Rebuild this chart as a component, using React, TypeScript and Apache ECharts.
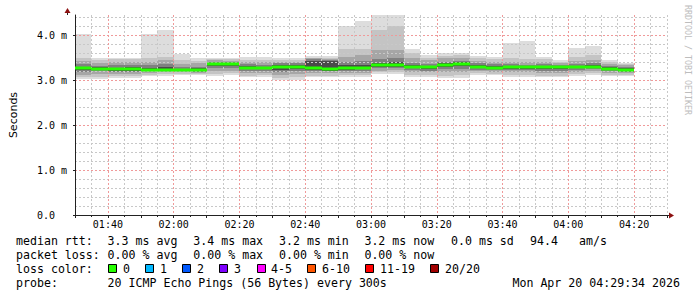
import React, { useEffect, useRef } from "react";
import * as echarts from "echarts";

// ---- data (values in ms, 5-minute bins, 20 pings per bin) ----
const binStart = [
  "01:30", "01:35", "01:40", "01:45", "01:50", "01:55", "02:00", "02:05", "02:10", "02:15",
  "02:20", "02:25", "02:30", "02:35", "02:40", "02:45", "02:50", "02:55", "03:00", "03:05",
  "03:10", "03:15", "03:20", "03:25", "03:30", "03:35", "03:40", "03:45", "03:50", "03:55",
  "04:00", "04:05", "04:10", "04:15",
];
const rttMin = [3.02, 3.02, 3.05, 3.05, 3.09, 3.09, 3.11, 3.11, 3.09, 3.11, 3.06, 3.06, 3.01, 3.01, 3.06, 3.06, 3.07, 3.07, 3.13, 3.13, 3.07, 3.07, 3.05, 3.05, 3.11, 3.11, 3.07, 3.07, 3.06, 3.06, 3.09, 3.11, 3.09, 3.09];
const rttLow2 = [3.06, 3.07, 3.09, 3.08, 3.12, 3.13, 3.14, 3.13, 3.14, 3.15, 3.10, 3.11, 3.05, 3.06, 3.10, 3.10, 3.11, 3.11, 3.17, 3.17, 3.12, 3.11, 3.10, 3.11, 3.15, 3.14, 3.11, 3.12, 3.10, 3.10, 3.13, 3.15, 3.12, 3.12];
const rttLow3 = [3.12, 3.13, 3.14, 3.13, 3.16, 3.17, 3.17, 3.16, 3.20, 3.21, 3.16, 3.16, 3.12, 3.13, 3.15, 3.15, 3.16, 3.16, 3.21, 3.22, 3.18, 3.17, 3.17, 3.18, 3.19, 3.18, 3.17, 3.18, 3.16, 3.16, 3.18, 3.20, 3.16, 3.15];
const rttLow4 = [3.18, 3.19, 3.18, 3.17, 3.19, 3.20, 3.19, 3.18, 3.26, 3.27, 3.21, 3.21, 3.18, 3.19, 3.20, 3.19, 3.20, 3.20, 3.26, 3.26, 3.23, 3.21, 3.24, 3.25, 3.23, 3.22, 3.22, 3.22, 3.21, 3.21, 3.23, 3.24, 3.19, 3.18];
const rttLow5 = [3.22, 3.22, 3.21, 3.21, 3.21, 3.21, 3.21, 3.20, 3.31, 3.32, 3.24, 3.24, 3.23, 3.24, 3.23, 3.21, 3.23, 3.24, 3.30, 3.30, 3.26, 3.25, 3.29, 3.31, 3.26, 3.25, 3.25, 3.25, 3.25, 3.25, 3.26, 3.27, 3.22, 3.21];
const rttMedian = [3.26, 3.25, 3.24, 3.24, 3.23, 3.23, 3.22, 3.22, 3.35, 3.35, 3.27, 3.27, 3.28, 3.29, 3.27, 3.24, 3.27, 3.27, 3.33, 3.33, 3.29, 3.28, 3.33, 3.35, 3.29, 3.27, 3.28, 3.28, 3.28, 3.28, 3.29, 3.30, 3.24, 3.23];
const rttHigh5 = [3.30, 3.28, 3.27, 3.28, 3.27, 3.28, 3.25, 3.26, 3.38, 3.38, 3.31, 3.30, 3.33, 3.33, 3.43, 3.42, 3.33, 3.33, 3.38, 3.39, 3.33, 3.32, 3.37, 3.39, 3.33, 3.31, 3.31, 3.31, 3.31, 3.31, 3.32, 3.33, 3.28, 3.27];
const rttHigh4 = [3.35, 3.32, 3.33, 3.34, 3.33, 3.36, 3.29, 3.30, 3.41, 3.41, 3.35, 3.34, 3.37, 3.37, 3.46, 3.45, 3.40, 3.42, 3.47, 3.50, 3.38, 3.36, 3.41, 3.43, 3.37, 3.35, 3.35, 3.34, 3.35, 3.34, 3.36, 3.37, 3.32, 3.30];
const rttHigh3 = [3.42, 3.38, 3.40, 3.41, 3.41, 3.44, 3.36, 3.37, 3.44, 3.43, 3.40, 3.39, 3.41, 3.41, 3.48, 3.47, 3.52, 3.55, 3.67, 3.67, 3.48, 3.44, 3.48, 3.49, 3.42, 3.40, 3.41, 3.40, 3.40, 3.38, 3.42, 3.44, 3.36, 3.33];
const rttHigh2 = [3.48, 3.44, 3.46, 3.47, 3.50, 3.52, 3.44, 3.43, 3.47, 3.46, 3.45, 3.44, 3.45, 3.45, 3.50, 3.50, 3.69, 3.70, 4.11, 4.19, 3.60, 3.50, 3.54, 3.56, 3.49, 3.47, 3.49, 3.47, 3.46, 3.41, 3.52, 3.55, 3.40, 3.36];
const rttMax = [4.02, 3.48, 3.50, 3.50, 4.02, 4.11, 3.58, 3.48, 3.50, 3.48, 3.52, 3.52, 3.48, 3.48, 3.53, 3.53, 4.20, 4.31, 4.44, 4.44, 3.70, 3.56, 3.59, 3.61, 3.54, 3.52, 3.83, 3.87, 3.52, 3.44, 3.72, 3.76, 3.44, 3.38];

const xTickLabels = ["01:40", "02:00", "02:20", "02:40", "03:00", "03:20", "03:40", "04:00", "04:20"];
const yTickLabels = ["0.0", "1.0 m", "2.0 m", "3.0 m", "4.0 m"];

const medianStats = ["3.3 ms avg", "3.4 ms max", "3.2 ms min", "3.2 ms now", "0.0 ms sd", "94.4", "am/s"];
const lossStats = ["0.00 % avg", "0.00 % max", "0.00 % min", "0.00 % now"];
const lossLabels = ["0", "1", "2", "3", "4-5", "6-10", "11-19", "20/20"];
const lossColors = ["#26ff00", "#00b8ff", "#0059ff", "#7e00ff", "#ff00ff", "#ff5500", "#ff0000", "#a10000"];
const probeText = "20 ICMP Echo Pings (56 Bytes) every 300s";
const dateText = "Mon Apr 20 04:29:34 2026";

// ---- layout / style ----
const X_MIN = 90;
const X_MAX = 270;
const BIN = 5;
const Y_MAX = 200 / 45;
const MONO = '"DejaVu Sans Mono", monospace';
const smokeColors = ["#dddddd", "#c4c4c4", "#a6a6a6", "#808080", "#4a4a4a"];
const layers = [
  [rttMin, rttMax],
  [rttLow2, rttHigh2],
  [rttLow3, rttHigh3],
  [rttLow4, rttHigh4],
  [rttLow5, rttHigh5],
];
const toMin = (s: string) => {
  const [h, m] = s.split(":").map(Number);
  return h * 60 + m;
};

const statX = [107.6, 193.3, 279, 364.4, 451, 530, 579];
const boxX = [108.4, 145.4, 182.4, 219.4, 256.9, 307.4, 365.4, 430.4];
const boxLabelX = [123, 160, 197, 234, 271, 322, 380, 445];
const rowY = [241, 255, 269, 283];

function txt(x: number, y: number, text: string, extra: any = {}) {
  return {
    type: "text",
    x,
    y,
    silent: true,
    style: {
      text,
      fill: "#000",
      fontFamily: MONO,
      fontSize: 11.6,
      align: "left",
      verticalAlign: "middle",
      ...extra,
    },
  };
}

function buildGraphics() {
  const els: any[] = [];
  els.push(txt(16, rowY[0], "median rtt:"));
  medianStats.forEach((s, i) => els.push(txt(statX[i], rowY[0], s)));
  els.push(txt(16, rowY[1], "packet loss:"));
  lossStats.forEach((s, i) => els.push(txt(statX[i], rowY[1], s)));
  els.push(txt(16, rowY[2], "loss color:"));
  lossLabels.forEach((s, i) => {
    els.push({
      type: "rect",
      silent: true,
      shape: { x: Math.round(boxX[i]) + 0.5, y: rowY[2] - 4.5, width: 8, height: 8 },
      style: { fill: lossColors[i], stroke: "#000", lineWidth: 1 },
    });
    els.push(txt(boxLabelX[i], rowY[2], s));
  });
  els.push(txt(16, rowY[3], "probe:"));
  els.push(txt(107.6, rowY[3], probeText));
  els.push(txt(680, rowY[3], dateText, { align: "right" }));
  // watermark
  els.push({
    type: "text",
    x: 687.5,
    y: 5,
    rotation: -Math.PI / 2,
    silent: true,
    style: {
      text: "RRDTOOL / TOBI OETIKER",
      fill: "#bdbdbd",
      fontFamily: MONO,
      fontSize: 8.3,
      align: "left",
      verticalAlign: "middle",
    },
  });
  // axis extensions and arrows
  els.push({
    type: "line",
    silent: true,
    shape: { x1: 67.5, y1: 15, x2: 67.5, y2: 11 },
    style: { stroke: "#222", lineWidth: 1 },
  });
  els.push({
    type: "polygon",
    silent: true,
    shape: { points: [[64.5, 13], [70.5, 13], [67.5, 8]] },
    style: { fill: "#8c1010" },
  });
  els.push({
    type: "line",
    silent: true,
    shape: { x1: 667, y1: 215.5, x2: 670, y2: 215.5 },
    style: { stroke: "#222", lineWidth: 1 },
  });
  els.push({
    type: "polygon",
    silent: true,
    shape: { points: [[669, 212.5], [669, 218.5], [674, 215.5]] },
    style: { fill: "#8c1010" },
  });
  return els;
}

const MAJOR = "#f09a9a";
const MINOR = "#c8c8c8";
const CLEAR = "rgba(0,0,0,0)";

function buildOption(): any {
  const binData = binStart.map((t, i) => [toMin(t), toMin(t) + BIN, rttMin[i], rttMax[i]]);
  const medData = binStart.map((t, i) => [toMin(t), toMin(t) + BIN, rttMedian[i]]);
  return {
    animation: false,
    backgroundColor: "#ffffff",
    grid: { left: 67, top: 15, width: 600, height: 200, containLabel: false },
    xAxis: {
      type: "value",
      min: X_MIN,
      max: X_MAX,
      interval: 10,
      axisLine: { show: true, lineStyle: { color: "#222", width: 1 } },
      axisTick: { show: true, length: 3, lineStyle: { color: "#222" } },
      minorTick: { show: true, splitNumber: 2, length: 2, lineStyle: { color: "#222" } },
      axisLabel: {
        margin: 4,
        fontFamily: MONO,
        fontSize: 10,
        color: "#000",
        formatter: (v: number) => {
          const k = (v - 100) / 20;
          return Number.isInteger(k) && xTickLabels[k] ? xTickLabels[k] : "";
        },
      },
      splitLine: { show: true, lineStyle: { color: [MINOR, MAJOR], type: [2, 2], width: 1 } },
      minorSplitLine: { show: true, lineStyle: { color: MINOR, type: [2, 2], width: 1 } },
    },
    yAxis: {
      type: "value",
      min: 0,
      max: Y_MAX,
      interval: 1,
      name: "Seconds",
      nameLocation: "middle",
      nameGap: 56,
      nameRotate: 90,
      nameTextStyle: { fontFamily: '"DejaVu Sans", sans-serif', fontSize: 11, color: "#000" },
      axisLine: { show: true, lineStyle: { color: "#222", width: 1 } },
      axisTick: { show: true, length: 2, lineStyle: { color: "#222" } },
      minorTick: { show: false, splitNumber: 5 },
      axisLabel: {
        align: "left",
        margin: 38,
        fontFamily: MONO,
        fontSize: 10,
        color: "#000",
        showMaxLabel: false,
        formatter: (v: number) => {
          const k = Math.round(v);
          return Math.abs(v - k) < 1e-6 && yTickLabels[k] ? yTickLabels[k] : "";
        },
      },
      splitLine: {
        show: true,
        lineStyle: { color: [CLEAR, MAJOR, MAJOR, MAJOR, MAJOR, CLEAR], type: [2, 2], width: 1 },
      },
      minorSplitLine: { show: true, lineStyle: { color: MINOR, type: [2, 2], width: 1 } },
    },
    series: [
      {
        type: "custom",
        name: "smoke",
        z: -1,
        silent: true,
        data: binData,
        encode: { x: [0, 1], y: [2, 3] },
        renderItem: (params: any, api: any) => {
          const i = params.dataIndex;
          const x0 = Math.max(api.value(0), X_MIN);
          const x1 = api.value(1);
          const children = layers.map(([lo, hi], k) => {
            const a = api.coord([x0, hi[i]]);
            const b = api.coord([x1, lo[i]]);
            const xa = Math.round(a[0]);
            const xb = Math.round(b[0]);
            const ya = Math.round(a[1]);
            const yb = Math.round(b[1]);
            return {
              type: "rect",
              shape: { x: xa, y: ya, width: xb - xa, height: yb - ya },
              style: { fill: smokeColors[k] },
            };
          });
          return { type: "group", children };
        },
      },
      {
        type: "custom",
        name: "median",
        z: 5,
        silent: true,
        data: medData,
        encode: { x: [0, 1], y: 2 },
        renderItem: (params: any, api: any) => {
          const x0 = Math.max(api.value(0), X_MIN);
          const a = api.coord([x0, api.value(2)]);
          const b = api.coord([api.value(1), api.value(2)]);
          const xa = Math.round(a[0]);
          const xb = Math.round(b[0]);
          return {
            type: "rect",
            shape: { x: xa, y: Math.round(a[1]) - 1.5, width: xb - xa, height: 3 },
            style: { fill: lossColors[0] },
          };
        },
      },
    ],
    graphic: { elements: buildGraphics() },
  };
}

export default function App() {
  const ref = useRef<HTMLDivElement>(null);
  useEffect(() => {
    if (!ref.current) return;
    const chart = echarts.init(ref.current, null, { renderer: "svg", width: 697, height: 297 });
    chart.setOption(buildOption());
    return () => chart.dispose();
  }, []);
  return (
    <div
      ref={ref}
      style={{ position: "fixed", left: 0, top: 0, width: 697, height: 297, background: "#fff" }}
    />
  );
}
